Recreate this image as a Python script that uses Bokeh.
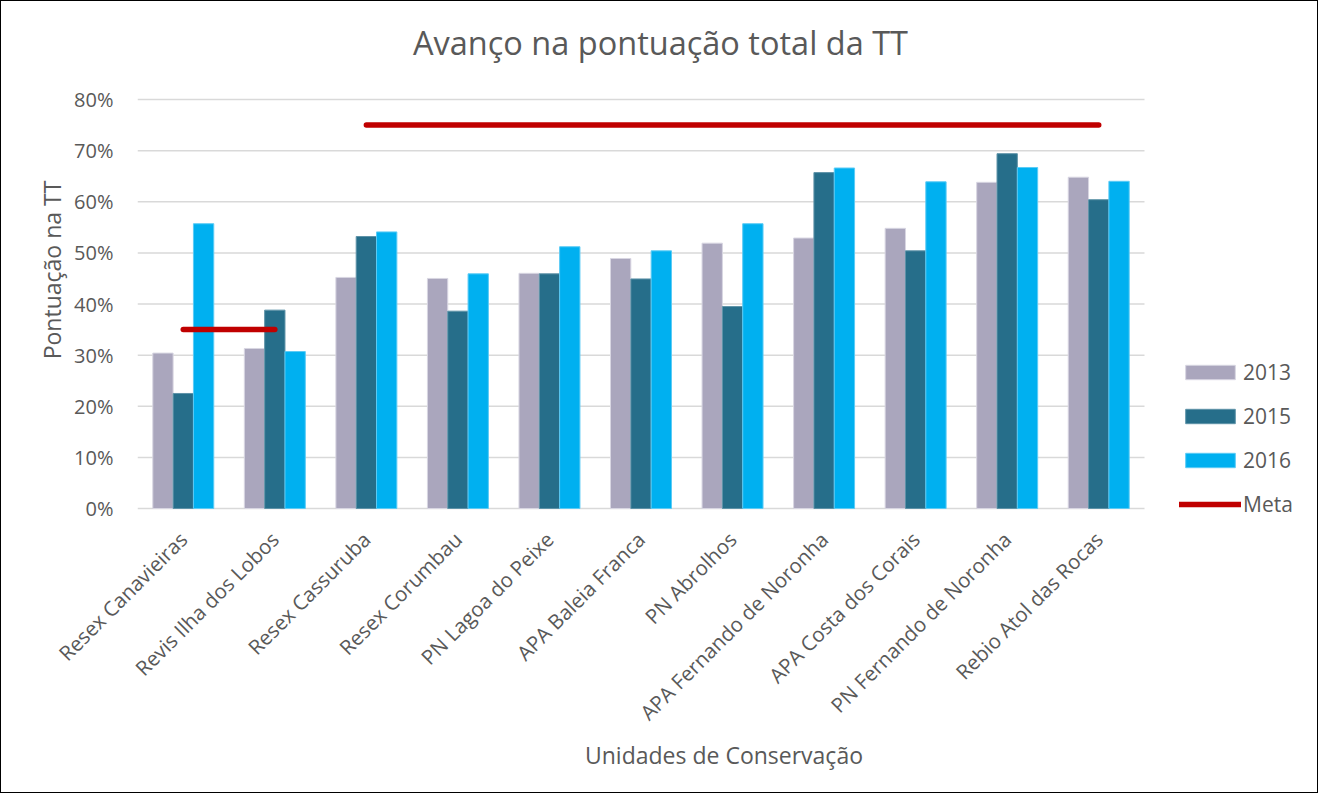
import math
from bokeh.plotting import figure
from bokeh.models import (Range1d, Label, Legend, LegendItem, NumeralTickFormatter,
                          FixedTicker, ColumnDataSource)
from bokeh.transform import dodge
from bokeh.embed import file_html
from bokeh.resources import INLINE

units = ["Resex Canavieiras", "Revis Ilha dos Lobos", "Resex Cassuruba", "Resex Corumbau",
         "PN Lagoa do Peixe", "APA Baleia Franca", "PN Abrolhos", "APA Fernando de Noronha",
         "APA Costa dos Corais", "PN Fernando de Noronha", "Rebio Atol das Rocas"]
v2013 = [0.304, 0.313, 0.452, 0.450, 0.460, 0.489, 0.519, 0.529, 0.548, 0.638, 0.648]
v2015 = [0.225, 0.388, 0.532, 0.386, 0.459, 0.449, 0.395, 0.657, 0.504, 0.694, 0.604]
v2016 = [0.557, 0.307, 0.541, 0.459, 0.512, 0.504, 0.557, 0.666, 0.639, 0.667, 0.640]
meta = [0.35, 0.35, 0.75, 0.75, 0.75, 0.75, 0.75, 0.75, 0.75, 0.75, 0.75]
y_ticks = [0.0, 0.1, 0.2, 0.3, 0.4, 0.5, 0.6, 0.7, 0.8]

FONT = "Open Sans"
TXT = "#595959"
GRID = "#D9D9D9"

pos = list(range(1, len(units) + 1))
n = len(units)

# layout geometry (pixels)
W, H = 1318, 793
D = 20                      # extra frame space below the zero line (for the legend)
BL, BR, BT, BB = 136, 9, 10, 286 - D
PX_CAT = 1007 / n           # width of one category in pixels
PX_Y = 409 / 0.8            # pixels per unit on y
frame_w = W - BL - BR
frame_h = H - BT - BB
x_start = 0.5
x_end = x_start + frame_w / PX_CAT
y_start = -D / PX_Y
y_end = (frame_h - D) / PX_Y

src = ColumnDataSource(dict(x=pos, a=v2013, b=v2015, c=v2016))

p = figure(x_range=Range1d(x_start, x_end), y_range=Range1d(y_start, y_end),
           width=W, height=H, output_backend="svg", toolbar_location=None,
           min_border_left=BL, min_border_right=BR, min_border_top=BT, min_border_bottom=BB)
p.styles = {"border": "1px solid #000000"}
p.outline_line_color = None
p.background_fill_color = "white"
p.border_fill_color = "white"

# gridlines (and zero line) limited to the category span
p.xgrid.visible = False
p.ygrid.visible = False
p.segment(x0=[pos[0] - 0.5] * len(y_ticks), x1=[pos[-1] + 0.5] * len(y_ticks),
          y0=y_ticks, y1=y_ticks, line_color=GRID, line_width=1.5, level="underlay")

bw = 0.222
r13 = p.vbar(x=dodge("x", -bw), top="a", width=bw, source=src,
             fill_color="#AAA6BD", line_color="#D8D6E2", line_width=1)
r15 = p.vbar(x=dodge("x", 0), top="b", width=bw, source=src,
             fill_color="#266E8A", line_color="#5E93A8", line_width=1)
r16 = p.vbar(x=dodge("x", bw), top="c", width=bw, source=src,
             fill_color="#00B0F0", line_color="#5CCBF5", line_width=1)

low = [(x, m) for x, m in zip(pos, meta) if m == meta[0]]
high = [(x, m) for x, m in zip(pos, meta) if m != meta[0]]
rm1 = p.line(x=[x for x, _ in low], y=[m for _, m in low], line_color="#C00000",
             line_width=5.5, line_cap="round")
rm2 = p.line(x=[x for x, _ in high], y=[m for _, m in high], line_color="#C00000",
             line_width=5.5, line_cap="round")

# y axis
p.yaxis.ticker = FixedTicker(ticks=y_ticks)
p.yaxis.bounds = (y_ticks[0], y_ticks[-1])
p.yaxis.formatter = NumeralTickFormatter(format="0%")
p.yaxis.axis_line_color = None
p.yaxis.major_tick_line_color = None
p.yaxis.minor_tick_line_color = None
p.yaxis.major_label_text_font = FONT
p.yaxis.major_label_text_font_size = "20px"
p.yaxis.major_label_text_color = TXT
p.yaxis.major_label_standoff = 18
p.yaxis.axis_label = "Pontuação na TT"
p.yaxis.axis_label_text_font = FONT
p.yaxis.axis_label_text_font_size = "23px"
p.yaxis.axis_label_text_font_style = "normal"
p.yaxis.axis_label_text_color = TXT
p.yaxis.axis_label_standoff = 3

# x axis (sits D px below the zero line, so labels are pulled up by D)
p.xaxis.ticker = FixedTicker(ticks=pos)
p.xaxis.major_label_overrides = {x: u for x, u in zip(pos, units)}
p.xaxis.bounds = (pos[0] - 0.5, pos[-1] + 0.5)
p.xaxis.axis_line_color = None
p.xaxis.major_tick_line_color = None
p.xaxis.minor_tick_line_color = None
p.xaxis.major_label_orientation = math.pi / 4
p.xaxis.major_label_text_font = FONT
p.xaxis.major_label_text_font_size = "20.5px"
p.xaxis.major_label_text_color = TXT
p.xaxis.major_label_standoff = 21 - D
p.xaxis.axis_label = "Unidades de Conservação"
p.xaxis.axis_label_text_font = FONT
p.xaxis.axis_label_text_font_size = "23px"
p.xaxis.axis_label_text_font_style = "normal"
p.xaxis.axis_label_text_color = TXT
p.xaxis.axis_label_standoff = 0

# title (centred on the whole chart)
title = Label(x=x_start + (W / 2 - BL) / PX_CAT, y=(frame_h - D - 30.5) / PX_Y,
              text="Avanço na pontuação total da TT",
              text_font=FONT, text_font_size="32.5px", text_color=TXT,
              text_align="center", text_baseline="middle")
p.add_layout(title)

legend = Legend(items=[LegendItem(label="2013", renderers=[r13]),
                       LegendItem(label="2015", renderers=[r15]),
                       LegendItem(label="2016", renderers=[r16]),
                       LegendItem(label="Meta", renderers=[rm1])],
                location=(1042, D - 10), glyph_width=62, glyph_height=18,
                label_text_font=FONT, label_text_font_size="21px", label_text_color=TXT,
                label_standoff=2, spacing=16, padding=0, margin=0, border_line_color=None,
                background_fill_alpha=0)
p.add_layout(legend, "center")

open("out.html", "w").write(file_html(p, INLINE))
